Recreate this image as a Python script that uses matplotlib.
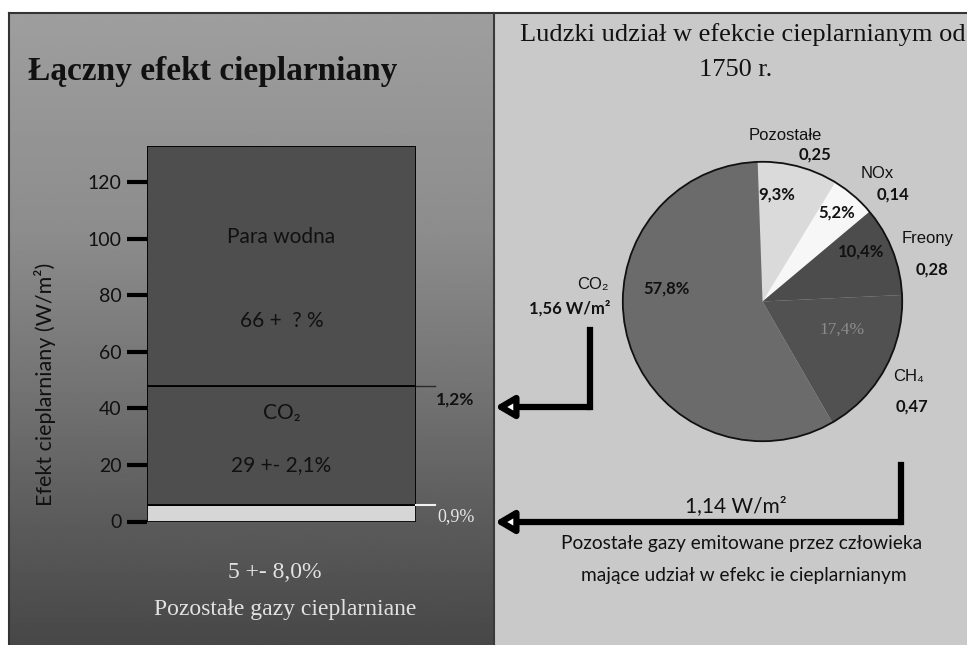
import numpy as np
import matplotlib
matplotlib.use('Agg')
import matplotlib.pyplot as plt
from matplotlib.patches import Circle, Rectangle

W, H = 967, 645

# stacked bar: total greenhouse effect (W/m2), bottom -> top
bar_names = ['Pozostałe gazy', 'CO₂', 'Para wodna']
bar_values = [6, 42, 85]
bar_colors = ['#d6d6d6', '#4e4e4e', '#4e4e4e']
y_ticks = [0, 20, 40, 60, 80, 100, 120]

# pie: human contribution since 1750 (W/m2), clockwise from the top
pie_names = ['Pozostałe', 'NOx', 'Freony', 'CH₄', 'CO₂']
pie_values = [0.25, 0.14, 0.28, 0.47, 1.56]
pie_value_texts = ['0,25', '0,14', '0,28', '0,47', '1,56 W/m²']
pie_colors = ['#dadada', '#f7f7f7', '#4c4c4c', '#515151', '#6b6b6b']

SANS = ['Lato', 'DejaVu Sans']
ARIAL = ['Liberation Sans', 'DejaVu Sans']
SERIF = ['Liberation Serif', 'DejaVu Serif']

fig = plt.figure(figsize=(W / 100, H / 100), dpi=100)
fig.patch.set_facecolor('white')

# background in pixel coordinates
bg = fig.add_axes([0, 0, 1, 1])
stops_y = [0.0, 0.35, 0.6, 0.8, 1.0]
stops_v = [0.62, 0.55, 0.45, 0.36, 0.28]
grad = np.interp(np.linspace(0, 1, 300), stops_y, stops_v).reshape(-1, 1)
bg.imshow(grad, extent=(9, 493, 645, 13), cmap='gray', vmin=0, vmax=1,
          aspect='auto', interpolation='bilinear')
bg.add_patch(Rectangle((495, 13), W - 495, H - 13, fc='#c9c9c9', ec='none'))
bg.plot([9, W], [13, 13], color='#333333', lw=1.5)
bg.plot([9, 9], [13, H], color='#333333', lw=1.5)
bg.plot([494, 494], [13, H], color='#3a3a3a', lw=1.5)
bg.set_xlim(0, W)
bg.set_ylim(H, 0)
bg.axis('off')

# stacked bar
bar_top = sum(bar_values)
ax = fig.add_axes([147 / W, (H - 521.5) / H, (416 - 147) / W, (521.5 - 145.7) / H])
bottom = 0
for name, v, c in zip(bar_names, bar_values, bar_colors):
    ax.bar(0.5, v, width=1, bottom=bottom, color=c, edgecolor='black', lw=1.3)
    bottom += v
ax.set_xlim(0, 1)
ax.set_ylim(0, bar_top)
ax.patch.set_visible(False)
for s in ax.spines.values():
    s.set_visible(False)
ax.set_xticks([])
ax.set_yticks(y_ticks)
ax.set_yticklabels([str(t) for t in y_ticks], family=SANS, fontsize=14, color='#111111')
ax.tick_params(axis='y', direction='out', length=14.5, width=3, color='black', pad=4)
co2_top = bar_values[0] + bar_values[1]
ax.plot([1, 1.07], [co2_top, co2_top], color='#2a2a2a', lw=1, clip_on=False)
ax.plot([1, 1.07], [bar_values[0], bar_values[0]], color='#f0f0f0', lw=1.5, clip_on=False)

ax.text(0.5, co2_top + bar_values[2] * 0.62, 'Para wodna', family=SANS, fontsize=15,
        ha='center', va='center', color='#111111')
ax.text(0.5, co2_top + bar_values[2] * 0.27, '66 +  ? %', family=SANS, fontsize=15,
        ha='center', va='center', color='#111111')
ax.text(0.5, bar_values[0] + bar_values[1] * 0.77, 'CO₂', family=SANS, fontsize=15,
        ha='center', va='center', color='#111111')
ax.text(0.5, bar_values[0] + bar_values[1] * 0.33, '29 +- 2,1%', family=SANS, fontsize=15,
        ha='center', va='center', color='#111111')

# pie
cx, cy, r = 762.5, 301.5, 142.5
pax = fig.add_axes([(cx - r) / W, (H - cy - r) / H, 2 * r / W, 2 * r / H])
pax.pie(pie_values, colors=pie_colors, startangle=92, counterclock=False,
        radius=1, wedgeprops=dict(linewidth=0))
pax.add_patch(Circle((0, 0), 1, fill=False, ec='#111111', lw=1.3))
pax.set_xlim(-1.02, 1.02)
pax.set_ylim(-1.02, 1.02)
pax.axis('off')

# overlay for all texts and arrows, in pixel coordinates
ov = fig.add_axes([0, 0, 1, 1])
ov.set_xlim(0, W)
ov.set_ylim(H, 0)
ov.axis('off')

# left panel texts
ov.text(28, 80, 'Łączny efekt cieplarniany', family=SERIF, fontsize=24,
        fontweight='bold', color='#111111', va='baseline')
ov.text(45, 384, 'Efekt cieplarniany (W/m²)', family=SANS, fontsize=15.5,
        rotation=90, ha='center', va='center', color='#111111')
ov.text(275, 572, '5 +- 8,0%', family=SERIF, fontsize=17, color='#e2e2e2',
        ha='center', va='center')
ov.text(285, 610, 'Pozostałe gazy cieplarniane', family=SERIF, fontsize=17,
        color='#e2e2e2', ha='center', va='center')
ov.text(455, 400, '1,2%', family=SANS, fontsize=12.5, fontweight='bold',
        color='#111111', ha='center', va='center')
ov.text(456, 517, '0,9%', family=SERIF, fontsize=13, color='#e6e6e6',
        ha='center', va='center')

# right panel title
ov.text(520, 35, 'Ludzki udział w efekcie cieplarnianym od', family=SERIF,
        fontsize=19, color='#111111', va='center', ha='left')
ov.text(736, 70, '1750 r.', family=SERIF, fontsize=19, color='#111111',
        va='center', ha='center')

total = sum(pie_values)
pcts = [('%.1f%%' % (v / total * 100)).replace('.', ',') for v in pie_values]
pct_pos = [(777, 195), (837, 213), (861, 252), (842, 330), (667, 289)]
for i, (p, (x, y)) in enumerate(zip(pcts, pct_pos)):
    if pie_names[i] == 'CH₄':
        ov.text(x, y, p, family=SERIF, fontsize=12.5, color='#8c8c8c',
                ha='center', va='center')
    else:
        ov.text(x, y, p, family=SANS, fontsize=12, fontweight='bold',
                color='#111111', ha='center', va='center')

name_pos = [(785, 135), (877, 173), (928, 238), (909, 377), (593, 285)]
val_pos = [(815, 155), (893, 195), (932, 270), (912, 407), (570, 308)]
for n, t, (nx, ny), (vx, vy) in zip(pie_names, pie_value_texts, name_pos, val_pos):
    ov.text(nx, ny, n, family=ARIAL, fontsize=12, color='#111111',
            ha='center', va='center')
    ov.text(vx, vy, t, family=SANS, fontsize=12, fontweight='bold',
            color='#111111', ha='center', va='center')

# arrows towards the bar
arrow_kw = dict(arrowstyle='-|>,head_length=1.1,head_width=0.65', lw=4.5,
                ec='black', fc='white', shrinkA=0, shrinkB=0)
ov.plot([590, 590], [330, 407], color='black', lw=4.5, solid_capstyle='projecting')
ov.annotate('', xy=(495, 407), xytext=(590, 407), arrowprops=arrow_kw)
ov.plot([901, 901], [465, 522], color='black', lw=4.5, solid_capstyle='projecting')
ov.annotate('', xy=(495, 522), xytext=(901, 522), arrowprops=arrow_kw)

ov.text(736, 506, '1,14 W/m²', family=SANS, fontsize=15, color='#111111',
        ha='center', va='center')
ov.text(742, 544, 'Pozostałe gazy emitowane przez człowieka', family=SANS,
        fontsize=13.8, color='#111111', ha='center', va='center')
ov.text(744, 575, 'mające udział w efekc ie cieplarnianym', family=SANS,
        fontsize=13.8, color='#111111', ha='center', va='center')

fig.savefig('out.png', dpi=100)
